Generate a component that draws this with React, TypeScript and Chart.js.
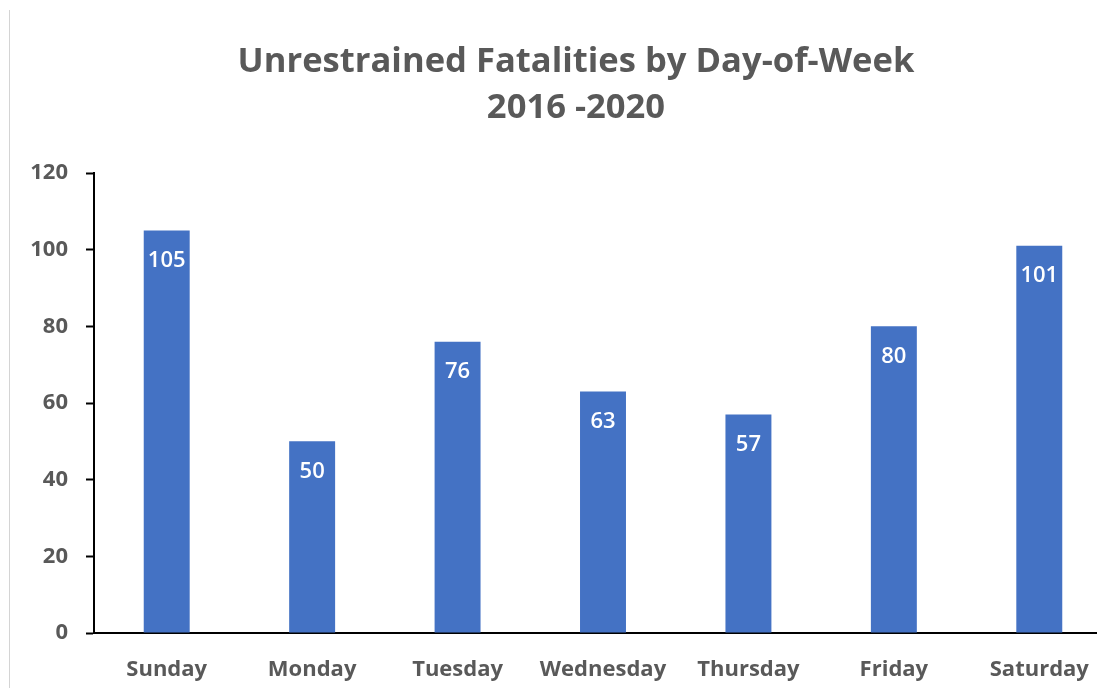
import React, { useEffect, useRef } from "react";
import { Chart, registerables } from "chart.js";

Chart.register(...registerables);

const categories = ["Sunday", "Monday", "Tuesday", "Wednesday", "Thursday", "Friday", "Saturday"];
const fatalities = [105, 50, 76, 63, 57, 80, 101];
const titleLines = ["Unrestrained Fatalities by Day-of-Week", "2016 -2020"];
const yMin = 0;
const yMax = 120;
const yStep = 20;

const FONT = "'Open Sans', 'Noto Sans', sans-serif";
const GRAY = "#595959";
const BLUE = "#4472C4";

const barLabelPlugin = {
  id: "barLabels",
  afterDatasetsDraw(chart: any) {
    const ctx = chart.ctx;
    const meta = chart.getDatasetMeta(0);
    const data = chart.data.datasets[0].data;
    ctx.save();
    ctx.fillStyle = "#ffffff";
    ctx.font = `600 22px ${FONT}`;
    ctx.textAlign = "center";
    ctx.textBaseline = "middle";
    meta.data.forEach((bar: any, i: number) => {
      ctx.fillText(String(data[i]), bar.x, bar.y + 30);
    });
    ctx.restore();
  },
};

const titlePlugin = {
  id: "offsetTitle",
  afterDraw(chart: any) {
    const ctx = chart.ctx;
    ctx.save();
    ctx.fillStyle = GRAY;
    ctx.font = `bold 34.6px ${FONT}`;
    ctx.textAlign = "center";
    ctx.textBaseline = "middle";
    titleLines.forEach((line, i) => {
      ctx.fillText(line, 568, 54 + i * 46);
    });
    ctx.restore();
  },
};

export default function App() {
  const canvasRef = useRef<HTMLCanvasElement | null>(null);

  useEffect(() => {
    if (!canvasRef.current) return;
    const chart = new Chart(canvasRef.current, {
      type: "bar",
      data: {
        labels: categories,
        datasets: [
          {
            data: fatalities,
            backgroundColor: BLUE,
            barPercentage: 0.316,
            categoryPercentage: 1,
          },
        ],
      },
      options: {
        responsive: false,
        animation: false,
        layout: { padding: { left: 0, right: 6, top: 165, bottom: 0 } },
        plugins: {
          legend: { display: false },
          tooltip: { enabled: false },
          title: { display: false },
        },
        scales: {
          x: {
            grid: { display: false, drawTicks: false },
            border: { display: true, color: "#000000", width: 2 },
            ticks: {
              color: GRAY,
              font: { family: FONT, size: 22, weight: "bold" },
              padding: 24,
              maxRotation: 0,
              autoSkip: false,
            },
            afterFit(scale: any) {
              scale.height = 55;
            },
          },
          y: {
            min: yMin,
            max: yMax,
            grid: {
              display: true,
              drawOnChartArea: false,
              drawTicks: true,
              tickLength: 8,
              tickColor: "#000000",
              tickWidth: 2,
            },
            border: { display: true, color: "#000000", width: 2 },
            ticks: {
              stepSize: yStep,
              color: GRAY,
              font: { family: FONT, size: 22, weight: "bold" },
              padding: 18,
            },
            afterFit(scale: any) {
              scale.width = 86;
            },
          },
        },
      },
      plugins: [barLabelPlugin, titlePlugin],
    });
    return () => chart.destroy();
  }, []);

  return (
    <div style={{ position: "relative", width: 1097, height: 680, overflow: "hidden" }}>
      <div
        style={{
          position: "absolute",
          left: 1,
          top: 2,
          width: 1,
          height: 680,
          background: "#d4d4d4",
        }}
      />
      <canvas ref={canvasRef} width={1110} height={680} style={{ display: "block" }} />
    </div>
  );
}
